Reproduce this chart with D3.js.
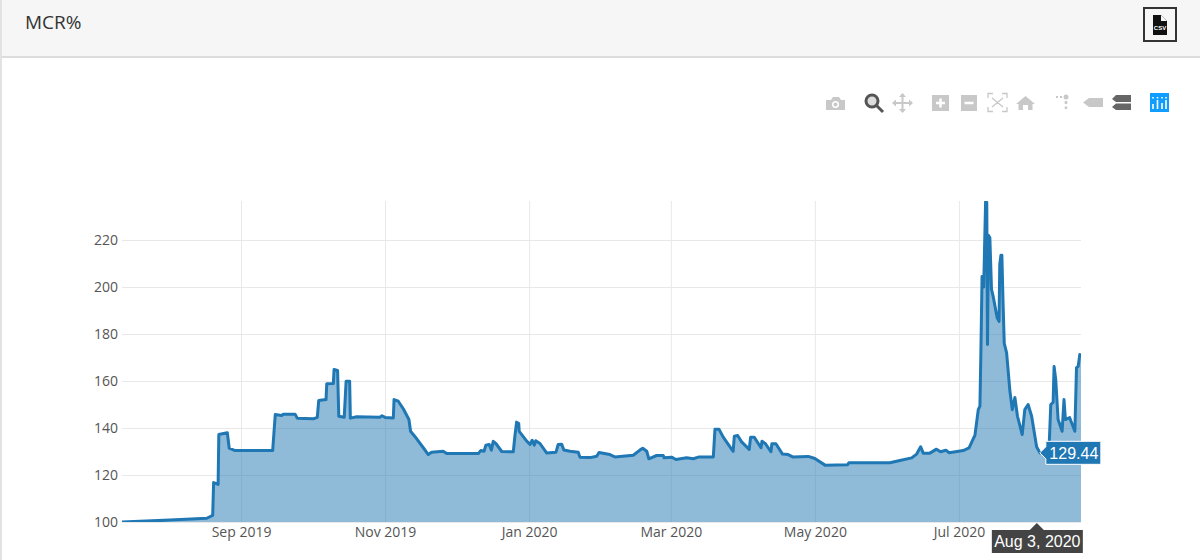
<!DOCTYPE html>
<html>
<head>
<meta charset="utf-8">
<title>MCR%</title>
<script src="https://cdn.jsdelivr.net/npm/d3@7"></script>
<style>
html, body { margin: 0; padding: 0; background: #fff; overflow: hidden; }
svg { display: block; }
.tick-label text { font-family: "Open Sans", sans-serif; font-size: 14px; fill: #555; }
</style>
</head>
<body>
<div id="chart"></div>
<script>
// days counted from 1 Sep 2019
var days = [
    -50.4, -30.1, -14.5, -12, -11.6, -9.7, -9.4, -5.8, -5, -2.5, 13.4, 14.5, 17.2, 17.9, 22.9, 23.8,
    30.6, 32.3, 32.9, 36, 36.3, 39.1, 39.4, 40.9, 41.4, 43.7, 44.5, 46, 46.3, 49, 58.8, 59.7,
    61, 64.5, 64.8, 66.6, 68.7, 71.1, 71.8, 73.7, 77.2, 79.3, 80.7, 85.6, 87.1, 100.5, 101.5, 102.9,
    103.7, 105.1, 106, 106.8, 108, 110.4, 115.3, 116, 116.7, 117.6, 117.8, 121, 122.4, 123.3, 124.2, 124.8,
    126.6, 129.4, 133.4, 134.3, 135.8, 136.7, 139.3, 142.8, 143.5, 147.8, 150.6, 151.6, 156.2, 158.3, 166.1, 168.9,
    170.1, 171.8, 172.7, 176, 178.8, 179.2, 182.3, 184.2, 188.7, 191.5, 194, 200, 200.7, 202.4, 204.2, 208.4,
    208.9, 210.3, 212, 215.2, 215.8, 217.3, 220.2, 220.6, 222.1, 224.4, 224.8, 226.5, 229.3, 231.7, 233.6, 240.2,
    243, 247.3, 256.9, 257.4, 274.8, 279, 284, 286.1, 287.8, 288.9, 291.7, 294.5, 296.2, 298.5, 299.9, 305.8,
    308.3, 310.8, 312.2, 312.9, 313.3, 313.8, 314.5, 315.3, 315.8, 316.1, 316.5, 317.1, 317.8, 318.5, 320.2, 321,
    321.3, 321.8, 322.2, 322.7, 323.2, 324.2, 325.6, 326.6, 327.7, 328.8, 330.8, 331.9, 333.3, 334.8, 336.9, 338.3,
    342.1, 342.9, 343.9, 344.3, 345, 346, 347.7, 348.5, 349.1, 350.9, 353.1, 353.8, 354.5, 355.2, 355.7
];
var mcr = [
    100, 100.8, 101.6, 102.8, 116.8, 116, 137.2, 138, 131.4, 130.4, 130.4, 145.7, 145.3, 145.9, 145.9, 144.2,
    143.9, 144.5, 151.7, 152.1, 158.8, 158.9, 164.9, 164.5, 145, 144.6, 159.9, 159.9, 144.2, 144.8, 144.6, 145.2,
    144.5, 144.3, 152.1, 151.4, 148.2, 143.6, 138.6, 136.3, 131.6, 128.7, 129.7, 130.1, 129.1, 129.1, 130.4, 130.1,
    132.7, 133, 130.6, 134.3, 133.3, 130, 129.9, 136.8, 142.5, 141.9, 138.6, 134.4, 133, 134.8, 132.7, 134.6,
    133.4, 129.4, 129.7, 133, 133.1, 130.6, 130.1, 129.7, 127.6, 127.4, 128, 129.6, 128.7, 127.7, 128.4, 130.6,
    131.4, 130.1, 126.9, 128.3, 128.3, 127.3, 127.6, 126.6, 127.3, 126.9, 127.7, 127.7, 139.5, 139.5, 136.1, 130.1,
    136.5, 136.8, 134.1, 130.9, 136.1, 136.1, 131.6, 134.4, 133.3, 129.9, 133.3, 133.3, 128.9, 128.7, 127.7, 127.9,
    127, 124.2, 124.4, 125.2, 125.2, 126.2, 127.3, 128.9, 132, 129.3, 129.3, 131, 129.9, 130.5, 129.5, 130.4,
    131.5, 137, 147.8, 149.3, 172, 204.5, 200, 236.5, 236, 175.5, 222, 221, 199, 196, 186.9, 185.4,
    209.6, 213.5, 213.5, 193, 176, 172, 155.7, 147.8, 153, 145, 137.2, 147.8, 150, 145, 132, 129.4,
    129.6, 150, 150.9, 166.2, 160.6, 143.6, 138.6, 152.1, 143.6, 144.4, 138.6, 165.7, 166.2, 171.3, 170
];
var xTicks = ["2019-09-01", "2019-11-01", "2020-01-01", "2020-03-01", "2020-05-01", "2020-07-01"];
var xTickLabels = ["Sep 2019", "Nov 2019", "Jan 2020", "Mar 2020", "May 2020", "Jul 2020"];
var yTicks = [100, 120, 140, 160, 180, 200, 220];
var hoverDate = "2020-08-03";
var hoverDateLabel = "Aug 3, 2020";
var hoverValue = 129.44;

function init() {
    var w = 1200;
    var h = 560;
    var left = 122, right = 1081, top = 201, bottom = 522;
    var lineColor = "#1f77b4";

    var svg = d3.select("#chart").append("svg").attr("width", w).attr("height", h);

    var start = Date.UTC(2019, 8, 1);
    var dates = days.map(d => new Date(start + d * 864e5));
    var points = dates.map((d, i) => ({date: d, value: mcr[i]}));

    // Scales
    var xScale = d3.scaleUtc().domain(d3.extent(dates)).range([left, right]);
    var yScale = d3.scaleLinear().domain([100, 100 + (bottom - top) / 2.35]).range([bottom, top]);

    // Page header
    svg.append("rect").attr("width", w).attr("height", 56).attr("fill", "#f6f6f6");
    svg.append("rect").attr("y", 56).attr("width", w).attr("height", 2).attr("fill", "#dcdcdc");
    svg.append("rect").attr("width", 2).attr("height", h).attr("fill", "#e2e2e2");
    svg.append("text").attr("x", 25).attr("y", 29)
        .attr("font-family", "'Open Sans', sans-serif").attr("font-size", 19)
        .attr("fill", "#333").text("MCR%");

    drawCsvButton(svg);
    drawModebar(svg);

    // Axes, grid lines come from the tick size
    var xAxis = d3.axisBottom(xScale)
        .tickValues(xTicks.map(d => new Date(d)))
        .tickFormat((d, i) => xTickLabels[i])
        .tickSize(top - bottom)
        .tickPadding(5);
    var yAxis = d3.axisLeft(yScale)
        .tickValues(yTicks)
        .tickSize(left - right)
        .tickPadding(4);

    var gx = svg.append("g").attr("class", "x axis tick-label")
        .attr("transform", `translate(0,${bottom})`).call(xAxis);
    var gy = svg.append("g").attr("class", "y axis tick-label")
        .attr("transform", `translate(${left},0)`).call(yAxis);
    gx.select(".domain").remove();
    gy.select(".domain").remove();
    svg.selectAll(".axis line").attr("stroke", "#e8e8e8").attr("stroke-width", 1);

    svg.append("clipPath").attr("id", "plot").append("rect")
        .attr("x", left).attr("y", top).attr("width", right - left).attr("height", bottom - top);

    // Area and line
    var area = d3.area().x(d => xScale(d.date)).y0(bottom).y1(d => yScale(d.value));
    var line = d3.line().x(d => xScale(d.date)).y(d => yScale(d.value));

    svg.append("path").datum(points).attr("clip-path", "url(#plot)")
        .attr("d", area).attr("fill", lineColor).attr("fill-opacity", 0.5);
    svg.append("path").datum(points).attr("clip-path", "url(#plot)")
        .attr("d", line).attr("fill", "none").attr("stroke", lineColor)
        .attr("stroke-width", 3).attr("stroke-linejoin", "round");

    // Hover labels
    var hx = xScale(new Date(hoverDate));
    var hy = yScale(hoverValue);

    var valueLabel = svg.append("g").attr("transform", `translate(${hx + 3},${hy})`);
    valueLabel.append("path")
        .attr("d", "M0,0 L6,-6 V-11.5 H61 V11.5 H6 V6 Z")
        .attr("fill", lineColor).attr("stroke", "#fff").attr("stroke-width", 1);
    valueLabel.append("text").attr("x", 34).attr("y", 6)
        .attr("text-anchor", "middle")
        .attr("font-family", "'Liberation Sans', Arial, sans-serif").attr("font-size", 16)
        .attr("fill", "#fff").text(hoverValue.toFixed(2));

    var dateLabel = svg.append("g").attr("transform", `translate(${hx},${bottom + 1})`);
    dateLabel.append("path")
        .attr("d", "M0,0 L7,7 H46 V30 H-45 V7 H-7 Z")
        .attr("fill", "#444");
    dateLabel.append("text").attr("x", 0.5).attr("y", 24)
        .attr("text-anchor", "middle")
        .attr("font-family", "'Liberation Sans', Arial, sans-serif").attr("font-size", 16)
        .attr("fill", "#fff").text(hoverDateLabel);
}

function drawCsvButton(svg) {
    var g = svg.append("g");
    g.append("rect").attr("x", 1144).attr("y", 8).attr("width", 32).attr("height", 33)
        .attr("fill", "#f6f6f6").attr("stroke", "#333").attr("stroke-width", 2);
    g.append("path").attr("d", "M1153,15 H1161 L1167,21 V35 H1153 Z").attr("fill", "#111");
    g.append("path").attr("d", "M1161,15 L1167,21 H1161 Z").attr("fill", "#f6f6f6");
    g.append("text").attr("x", 1160).attr("y", 30).attr("text-anchor", "middle")
        .attr("font-family", "'Liberation Sans', Arial, sans-serif").attr("font-size", 6)
        .attr("font-weight", "bold").attr("fill", "#fff").text("CSV");
}

function drawModebar(svg) {
    var grey = "#c8c8c8";
    var dark = "#666";
    var g = svg.append("g");

    // camera
    g.append("path").attr("d", "M826,100 H831 L833,97 H839 L841,100 H845 V110 H826 Z").attr("fill", grey);
    g.append("circle").attr("cx", 835.5).attr("cy", 104.5).attr("r", 3.5).attr("fill", "#fff");
    g.append("circle").attr("cx", 835.5).attr("cy", 104.5).attr("r", 2).attr("fill", grey);

    // zoom, active
    g.append("circle").attr("cx", 872).attr("cy", 101).attr("r", 6).attr("fill", "#ddd")
        .attr("stroke", "#555").attr("stroke-width", 3);
    g.append("line").attr("x1", 876).attr("y1", 105).attr("x2", 883).attr("y2", 112)
        .attr("stroke", "#555").attr("stroke-width", 3);

    // pan
    g.append("path").attr("d", "M902.5,94 V112 M893,103 H912").attr("stroke", grey).attr("stroke-width", 2);
    g.append("path").attr("d", "M902.5,93 L899,97 H906 Z M902.5,113 L899,109 H906 Z M892,103 L896,99.5 V106.5 Z M913,103 L909,99.5 V106.5 Z")
        .attr("fill", grey);

    // zoom in, zoom out
    g.append("rect").attr("x", 932).attr("y", 95).attr("width", 17).attr("height", 16).attr("fill", grey);
    g.append("path").attr("d", "M940.5,98.5 V107.5 M936,103 H945").attr("stroke", "#fff").attr("stroke-width", 2.5);
    g.append("rect").attr("x", 961).attr("y", 95).attr("width", 16).attr("height", 16).attr("fill", grey);
    g.append("path").attr("d", "M964.5,103 H973.5").attr("stroke", "#fff").attr("stroke-width", 2.5);

    // autoscale
    g.append("path")
        .attr("d", "M988,98 V93.5 H993 M1002,93.5 H1007 V98 M1007,107 V111.5 H1002 M993,111.5 H988 V107 M992,98 L1003,107 M1003,98 L992,107")
        .attr("fill", "none").attr("stroke", grey).attr("stroke-width", 1.3);

    // home
    g.append("path").attr("d", "M1025.5,96 L1035,104 H1032.5 V110 H1028 V105 H1023 V110 H1018.5 V104 H1016 Z").attr("fill", grey);

    // spike lines
    g.append("circle").attr("cx", 1066).attr("cy", 97).attr("r", 2.5).attr("fill", grey);
    g.append("path").attr("d", "M1056,97 H1062").attr("stroke", grey).attr("stroke-width", 2).attr("stroke-dasharray", "2 2");
    g.append("path").attr("d", "M1066,101 V109").attr("stroke", grey).attr("stroke-width", 2.5).attr("stroke-dasharray", "3 2.5");

    // closest / compare tags
    g.append("path").attr("d", "M1083,102.5 L1089,98 H1103 V107 H1089 Z").attr("fill", grey);
    g.append("path").attr("d", "M1112,99 L1116,95 H1131 V102 H1116 Z M1112,107 L1116,103.5 H1131 V110 H1116 Z").attr("fill", dark);

    // logo
    g.append("rect").attr("x", 1150).attr("y", 93).attr("width", 19).attr("height", 19).attr("fill", "#119dff");
    g.append("path").attr("d", "M1153,104 V109 M1157.5,100 V109 M1162,103 V109 M1166,100 V109").attr("stroke", "#fff").attr("stroke-width", 1.6);
    g.append("path").attr("d", "M1153,97 V98.5 M1157.5,97 V98.5 M1162,97 V98.5 M1166,97 V98.5").attr("stroke", "#fff").attr("stroke-width", 1.6);
}

window.onload = init;
</script>
</body>
</html>
